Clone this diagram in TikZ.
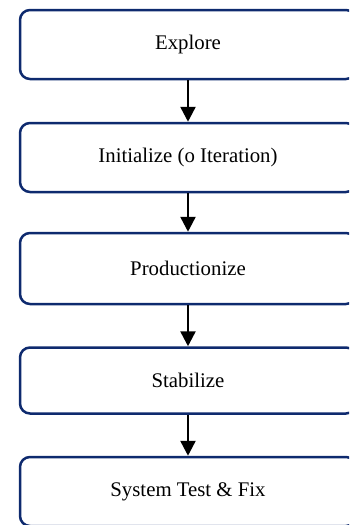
\documentclass[tikz,border=0pt]{standalone}
\usepackage{fontspec}
\setmainfont{Liberation Serif}
\usetikzlibrary{arrows.meta}
\definecolor{navy}{HTML}{0E2A6E}
\begin{document}
\begin{tikzpicture}[x=1pt,y=-1pt,
  stepbox/.style={draw=navy, line width=2.5pt, rounded corners=10pt,
    minimum width=336pt, minimum height=69pt, inner sep=0pt,
    font=\fontsize{20.8}{25}\selectfont},
  flow/.style={-{Triangle[width=15pt,length=15pt]}, line width=2.5pt, black}]
\useasboundingbox (0,0) rectangle (349,525);
\clip (0,0) rectangle (349,525);
\node[stepbox] (a) at (188,44.5) {Explore};
\node[stepbox] (b) at (188,157.5) {Initialize (o Iteration)};
\node[stepbox, minimum height=71pt] (c) at (188,268.5) {Productionize};
\node[stepbox, minimum height=66pt] (d) at (188,380.5) {Stabilize};
\node[stepbox] (e) at (188,491.5) {System Test \& Fix};
\draw[flow] (a) -- (b);
\draw[flow] (b) -- (c);
\draw[flow] (c) -- (d);
\draw[flow] (d) -- (e);
\end{tikzpicture}
\end{document}
